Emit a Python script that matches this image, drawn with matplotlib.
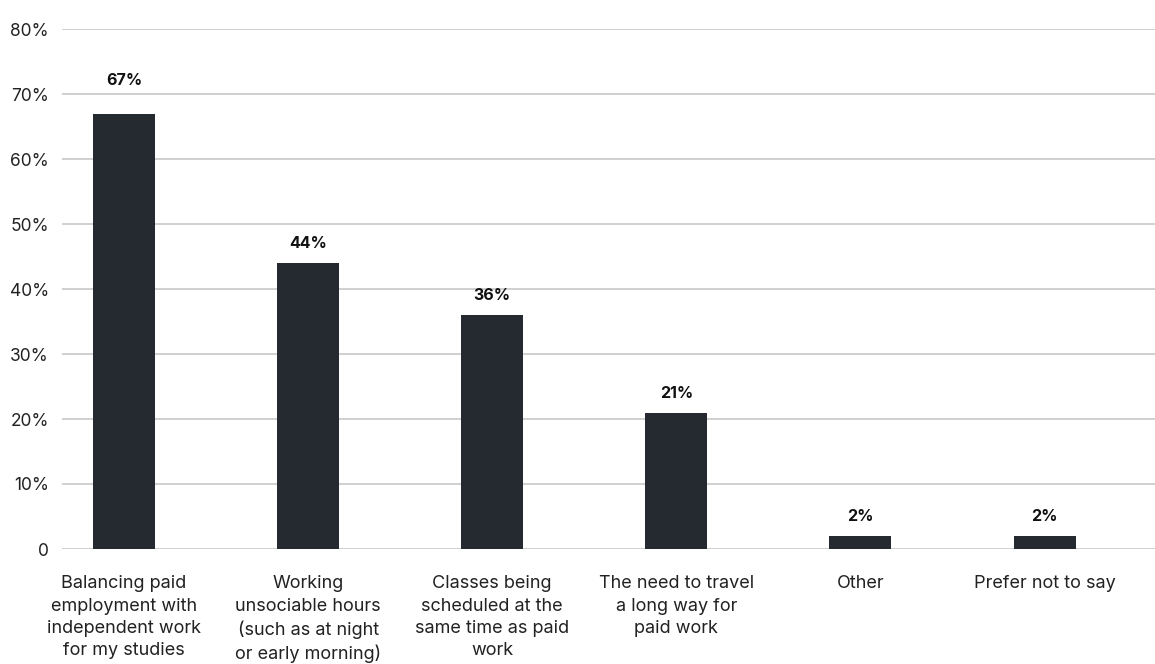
import matplotlib.pyplot as plt
from matplotlib.ticker import FuncFormatter

categories = [
    "Balancing paid\nemployment with\nindependent work\nfor my studies",
    "Working\nunsociable hours\n(such as at night\nor early morning)",
    "Classes being\nscheduled at the\nsame time as paid\nwork",
    "The need to travel\na long way for\npaid work",
    "Other",
    "Prefer not to say",
]
values = [67, 44, 36, 21, 2, 2]
yticks = [0, 10, 20, 30, 40, 50, 60, 70, 80]

plt.rcParams['font.family'] = ['Inter', 'DejaVu Sans']

fig = plt.figure(figsize=(11.55, 6.64), dpi=100)
ax = fig.add_axes([62 / 1155, 115 / 664, 1 - 62 / 1155, (549 - 29) / 664])

x = list(range(len(categories)))
ax.bar(x, values, width=0.337, color="#242a30", zorder=3)

# value labels sit just above each bar (the tallest one a bit higher)
for xi, v in zip(x, values):
    off = 24 if v == max(values) else 14
    ax.annotate("%d%%" % v, (xi, v), xytext=(0, off), textcoords="offset points",
                ha="center", va="center", fontsize=11.5, fontweight="bold", color="#111111")

ax.set_xlim(-0.337, 5.6)
ax.set_ylim(0, 80)
ax.set_yticks(yticks)
ax.yaxis.set_major_formatter(FuncFormatter(lambda v, p: "0" if v == 0 else "%d%%" % v))
ax.set_xticks(x)
ax.set_xticklabels(categories, fontsize=13, color="#222222", linespacing=1.4)
ax.tick_params(axis="y", length=0, pad=9.5, labelsize=12.5, labelcolor="#222222")
ax.tick_params(axis="x", length=0, pad=19)

ax.grid(axis="y", color="#c8c8c8", linewidth=1.2, zorder=0)
for s in ax.spines.values():
    s.set_visible(False)

fig.savefig("out.png", dpi=100)
